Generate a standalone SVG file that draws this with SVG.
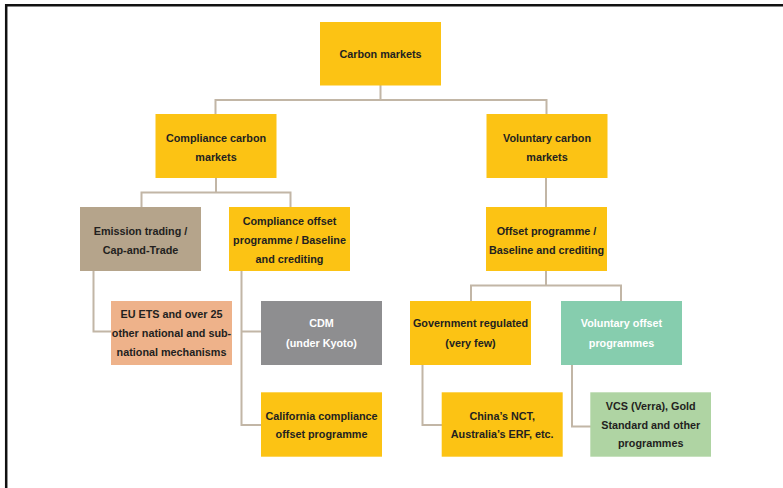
<svg xmlns="http://www.w3.org/2000/svg" width="783" height="488" viewBox="0 0 783 488">
<style>
.t{font-family:"Liberation Sans",Arial,sans-serif;font-weight:bold;font-size:10.8px;fill:#231f20;text-anchor:middle}
.w{fill:#ffffff}
.c{fill:none;stroke:#c2b6a6;stroke-width:2}
.y{fill:#fcc314}
</style>
<rect width="783" height="488" fill="#ffffff"/>
<path d="M6.2 488 V5.2 H783" fill="none" stroke="#111" stroke-width="2.5"/>
<g id="connectors">
<path class="c" d="M380.5 85 V100 M215.5 114 V100 H546.5 V114"/>
<path class="c" d="M216 178 V192.5 M141.5 207 V192.5 H290.5 V207"/>
<path class="c" d="M93.5 271 V331.5 H111"/>
<path class="c" d="M241.5 271 V425 H261 M241.5 331.5 H261"/>
<path class="c" d="M546 178 V207"/>
<path class="c" d="M546 271 V285.5 M471 301 V285.5 H621 V301"/>
<path class="c" d="M422.5 365 V425 H442"/>
<path class="c" d="M572 365 V426.5 H591"/>
</g>
<g id="carbon-markets">
<rect class="y" x="320" y="22" width="121" height="63.5"/>
<text class="t" x="380.5" y="57.5">Carbon markets</text>
</g>
<g id="compliance-carbon-markets">
<rect class="y" x="155.5" y="114" width="121" height="64"/>
<text class="t" x="216" y="141.5">Compliance carbon</text>
<text class="t" x="216" y="160.5">markets</text>
</g>
<g id="voluntary-carbon-markets">
<rect class="y" x="486.5" y="114" width="121" height="64"/>
<text class="t" x="547" y="141.5">Voluntary carbon</text>
<text class="t" x="547" y="160.5">markets</text>
</g>
<g id="emission-trading">
<rect x="80" y="207" width="121" height="64" fill="#b5a48b"/>
<text class="t" x="140.5" y="234.5">Emission trading /</text>
<text class="t" x="140.5" y="253.8">Cap-and-Trade</text>
</g>
<g id="compliance-offset">
<rect class="y" x="229" y="207" width="121" height="64"/>
<text class="t" x="289.5" y="225">Compliance offset</text>
<text class="t" x="289.5" y="244">programme / Baseline</text>
<text class="t" x="289.5" y="263">and crediting</text>
</g>
<g id="offset-programme">
<rect class="y" x="486" y="207" width="121" height="64"/>
<text class="t" x="546.5" y="234.5">Offset programme /</text>
<text class="t" x="546.5" y="253.8">Baseline and crediting</text>
</g>
<g id="eu-ets">
<rect x="111" y="301" width="121" height="64" fill="#eeb28a"/>
<text class="t" x="171.5" y="318">EU ETS and over 25</text>
<text class="t" x="171.5" y="337">other national and sub-</text>
<text class="t" x="171.5" y="356">national mechanisms</text>
</g>
<g id="cdm">
<rect x="261" y="301" width="121" height="64" fill="#8e8e90"/>
<text class="t w" x="321.5" y="327">CDM</text>
<text class="t w" x="321.5" y="346.5">(under Kyoto)</text>
</g>
<g id="california">
<rect class="y" x="261" y="392.3" width="121" height="64.4"/>
<text class="t" x="321.5" y="419.5">California compliance</text>
<text class="t" x="321.5" y="438">offset programme</text>
</g>
<g id="government-regulated">
<rect class="y" x="410" y="301" width="121" height="64"/>
<text class="t" x="470.5" y="327">Government regulated</text>
<text class="t" x="470.5" y="346.5">(very few)</text>
</g>
<g id="voluntary-offset">
<rect x="561" y="301" width="121" height="64" fill="#86cdae"/>
<text class="t w" x="621.5" y="327">Voluntary offset</text>
<text class="t w" x="621.5" y="346.5">programmes</text>
</g>
<g id="china-nct">
<rect class="y" x="441.7" y="392.3" width="121" height="64.4"/>
<text class="t" x="502.2" y="419.5">China’s NCT,</text>
<text class="t" x="502.2" y="438">Australia’s ERF, etc.</text>
</g>
<g id="vcs">
<rect x="590.3" y="392.3" width="120.7" height="64.4" fill="#afd4a3"/>
<text class="t" x="650.7" y="410">VCS (Verra), Gold</text>
<text class="t" x="650.7" y="428.5">Standard and other</text>
<text class="t" x="650.7" y="447">programmes</text>
</g>
</svg>
